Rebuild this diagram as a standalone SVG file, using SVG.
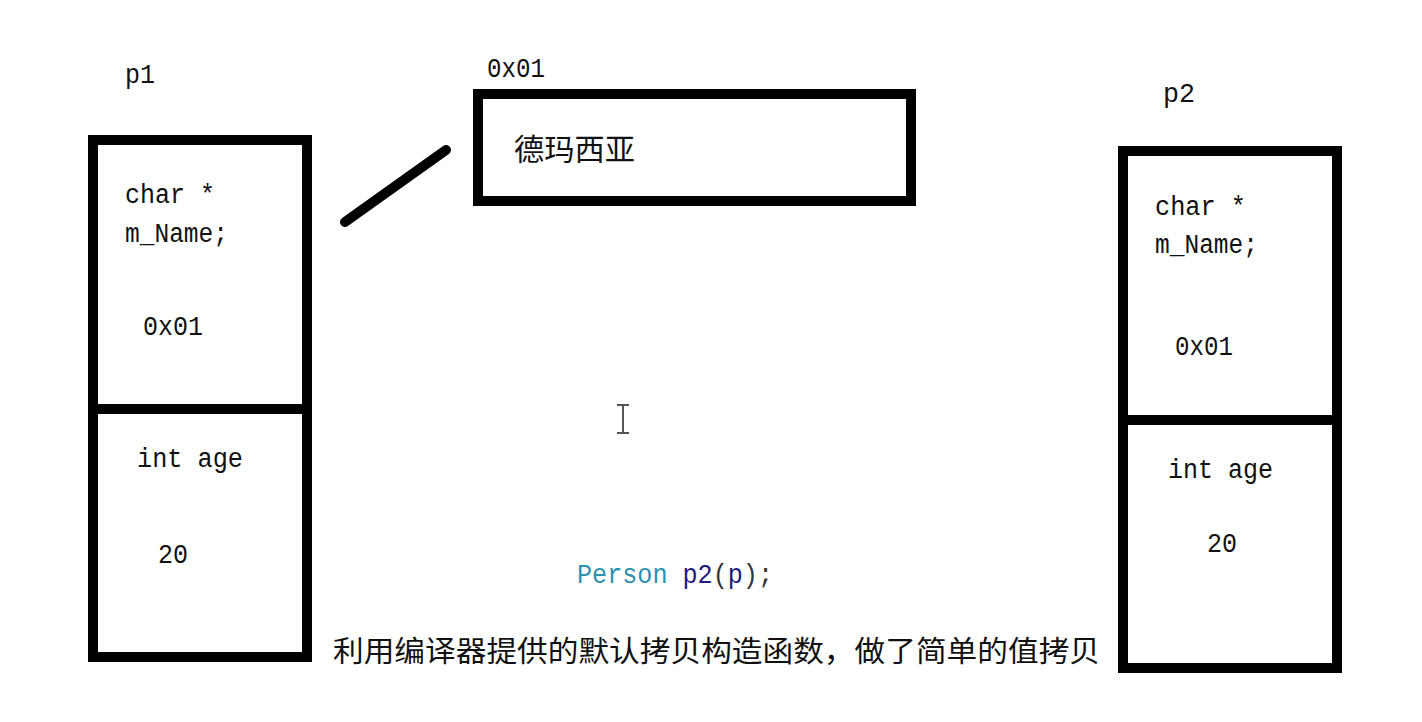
<svg xmlns="http://www.w3.org/2000/svg" width="1422" height="722" viewBox="0 0 1422 722">
<style>
.box{fill:none;stroke:#000;stroke-width:10}
.div{stroke:#000;stroke-width:10}
.t{font-family:"Liberation Mono",monospace;font-size:27px;fill:#111}
.cn{font-family:"Noto Sans CJK SC","Noto Sans",sans-serif;fill:#111}
.code{font-family:"Liberation Mono",monospace;font-size:27px}
</style>
<rect width="1422" height="722" fill="#fff"/>
<g id="p1">
<text class="t" x="125" y="83" textLength="30" lengthAdjust="spacingAndGlyphs">p1</text>
<rect class="box" x="93" y="140" width="214" height="517"/>
<line class="div" x1="93" y1="409" x2="302" y2="409"/>
<text class="t" x="125" y="203" textLength="90" lengthAdjust="spacingAndGlyphs">char *</text>
<text class="t" x="125" y="242" textLength="103" lengthAdjust="spacingAndGlyphs">m_Name;</text>
<text class="t" x="143" y="335" textLength="60" lengthAdjust="spacingAndGlyphs">0x01</text>
<text class="t" x="137" y="467" textLength="106" lengthAdjust="spacingAndGlyphs">int age</text>
<text class="t" x="158" y="563" textLength="30" lengthAdjust="spacingAndGlyphs">20</text>
</g>
<g id="heap">
<text class="t" x="487" y="77" textLength="58" lengthAdjust="spacingAndGlyphs">0x01</text>
<rect class="box" x="478" y="94" width="433" height="107"/>
<text class="cn" x="514" y="160" font-size="30" textLength="121" lengthAdjust="spacingAndGlyphs">德玛西亚</text>
</g>
<g id="p2">
<text class="t" x="1163" y="102" textLength="32" lengthAdjust="spacingAndGlyphs">p2</text>
<rect class="box" x="1123" y="151" width="214" height="517"/>
<line class="div" x1="1123" y1="420" x2="1332" y2="420"/>
<text class="t" x="1155" y="215" textLength="91" lengthAdjust="spacingAndGlyphs">char *</text>
<text class="t" x="1155" y="253" textLength="103" lengthAdjust="spacingAndGlyphs">m_Name;</text>
<text class="t" x="1175" y="355" textLength="58" lengthAdjust="spacingAndGlyphs">0x01</text>
<text class="t" x="1168" y="478" textLength="105" lengthAdjust="spacingAndGlyphs">int age</text>
<text class="t" x="1207" y="552" textLength="30" lengthAdjust="spacingAndGlyphs">20</text>
</g>
<g id="connectors">
<line x1="345" y1="222" x2="446" y2="150" stroke="#000" stroke-width="10" stroke-linecap="round"/>
</g>
<g id="cursor" stroke="#555" stroke-width="2" fill="none">
<line x1="623" y1="405" x2="623" y2="433"/>
<line x1="617" y1="405" x2="629" y2="405"/>
<line x1="617" y1="433" x2="629" y2="433"/>
</g>
<g id="caption">
<text class="code" x="577" y="583" textLength="196" lengthAdjust="spacingAndGlyphs"><tspan fill="#2b91af">Person</tspan> <tspan fill="#1c1c80">p2</tspan><tspan fill="#333">(</tspan><tspan fill="#1c1c80">p</tspan><tspan fill="#333">);</tspan></text>
<text class="cn" x="333" y="662" font-size="29" textLength="767" lengthAdjust="spacingAndGlyphs">利用编译器提供的默认拷贝构造函数，做了简单的值拷贝</text>
</g>
</svg>
